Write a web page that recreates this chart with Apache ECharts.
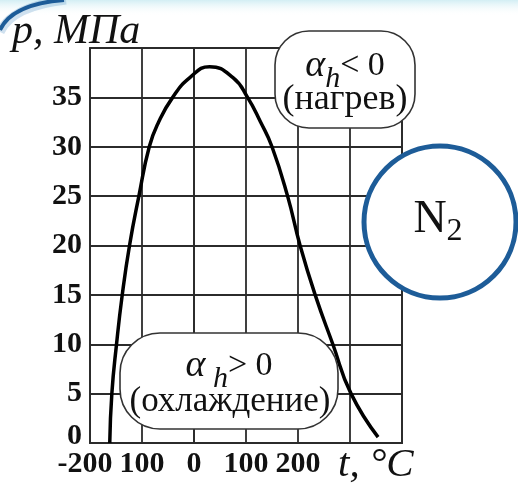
<!DOCTYPE html>
<html>
<head>
<meta charset="utf-8">
<script src="https://cdn.jsdelivr.net/npm/echarts@6/dist/echarts.min.js"></script>
<style>
html,body{margin:0;padding:0;background:#fff;}
#chart{width:518px;height:487px;}
</style>
</head>
<body>
<div id="chart"></div>
<script>
// Inversion curve of N2
var tempValues = [-162, -158, -149, -138, -124, -106, -86, -68, -41, -8, 30, 75, 103, 128, 150, 180, 204, 233, 267, 302, 354];
var pressureValues = [0, 5, 10, 15, 20, 25, 30, 32.5, 35, 37, 38.1, 37, 35, 32.5, 30, 25, 20, 15, 10, 5, 0.6];
var xTickValues = [-200, -100, 0, 100, 200, 300, 400];
var xTickLabels = ['-200', '100', '0', '100', '200', '', ''];
var yTickValues = [0, 5, 10, 15, 20, 25, 30, 35, 40];
var yTickLabels = ['0', '5', '10', '15', '20', '25', '30', '35', ''];

var curveData = tempValues.map(function (t, i) { return [t, pressureValues[i]]; });

var serif = '"Liberation Serif", "DejaVu Serif", serif';
var gridColor = '#2b2b2b';
var blue = '#1d5c98';

var chart = echarts.init(document.getElementById('chart'));
chart.setOption({
  animation: false,
  backgroundColor: '#fff',
  grid: { left: 90, right: 116, top: 48, bottom: 44, show: true, borderColor: gridColor, borderWidth: 1.8, backgroundColor: 'transparent' },
  xAxis: {
    type: 'value', min: -200, max: 400, interval: 100,
    axisLine: { show: true, lineStyle: { color: gridColor, width: 1.8 } },
    axisTick: { show: false },
    splitLine: { show: true, lineStyle: { color: gridColor, width: 1.8 } },
    axisLabel: {
      margin: 6,
      fontFamily: serif, fontWeight: 'bold', fontSize: 30, color: '#111',
      formatter: function (v) {
        var i = xTickValues.indexOf(v);
        var s = i >= 0 ? xTickLabels[i] : '';
        if (s === '-200') return '{m|' + s + '}';
        return s;
      },
      rich: { m: { fontFamily: serif, fontWeight: 'bold', fontSize: 30, color: '#111', padding: [0, 10, 0, 0] } }
    }
  },
  yAxis: {
    type: 'value', min: 0, max: 40, interval: 5,
    axisLine: { show: true, lineStyle: { color: gridColor, width: 1.8 } },
    axisTick: { show: false },
    splitLine: { show: true, lineStyle: { color: gridColor, width: 1.8 } },
    axisLabel: {
      margin: 8,
      fontFamily: serif, fontWeight: 'bold', fontSize: 30, color: '#111',
      formatter: function (v) {
        var i = yTickValues.indexOf(v);
        var s = i >= 0 ? yTickLabels[i] : '';
        if (v === 0) return '{z|0}';
        return s;
      },
      rich: { z: { fontFamily: serif, fontWeight: 'bold', fontSize: 30, color: '#111', padding: [0, 0, 14, 0] } }
    }
  },
  series: [{
    type: 'line',
    data: curveData,
    smooth: 0.5,
    showSymbol: false,
    lineStyle: { color: '#000', width: 3.5 },
    z: 3
  }],
  graphic: [
    // top decoration band
    { type: 'rect', shape: { x: 0, y: 0, width: 518, height: 16 }, z: 0,
      style: { fill: new echarts.graphic.LinearGradient(0, 0, 0, 1, [{ offset: 0, color: '#d3eef4' }, { offset: 1, color: 'rgba(255,255,255,0)' }]) } },
    { type: 'bezierCurve', z: 1, shape: { x1: 0, y1: 32, cpx1: 12, cpy1: 6, x2: 66, y2: 0 },
      style: { fill: null, stroke: 'rgba(120,170,210,0.35)', lineWidth: 9 } },
    { type: 'bezierCurve', z: 1, shape: { x1: 0, y1: 30, cpx1: 12, cpy1: 4, x2: 64, y2: 0 },
      style: { fill: null, stroke: blue, lineWidth: 4 } },
    // axis titles
    { type: 'text', left: 12, top: 11, z: 10,
      style: { text: 'p, MПа', fontFamily: serif, fontStyle: 'italic', fontSize: 42, fill: '#111' } },
    { type: 'text', left: 338, top: 445, z: 10,
      style: { text: 't, °C', fontFamily: serif, fontStyle: 'italic', fontSize: 41, fill: '#111' } },
    // box 1
    { type: 'rect', z: 5, shape: { x: 275, y: 31, width: 140, height: 97, r: 34 },
      style: { fill: '#fff', stroke: '#333', lineWidth: 1.6 } },
    { type: 'text', z: 6, x: 345, y: 66,
      style: { text: '{a|α}{h|h}{r|< 0}', align: 'center', verticalAlign: 'middle',
        rich: {
          a: { fontFamily: serif, fontStyle: 'italic', fontSize: 38, fill: '#111' },
          h: { fontFamily: serif, fontStyle: 'italic', fontSize: 30, fill: '#111', padding: [26, 0, 0, 0] },
          r: { fontFamily: serif, fontSize: 34, fill: '#111' }
        } } },
    { type: 'text', z: 6, x: 345, y: 100,
      style: { text: '(нагрев)', align: 'center', verticalAlign: 'middle', fontFamily: serif, fontSize: 36, fill: '#111' } },
    // box 2
    { type: 'rect', z: 5, shape: { x: 120, y: 333, width: 218, height: 96, r: 40 },
      style: { fill: '#fff', stroke: '#333', lineWidth: 1.6 } },
    { type: 'text', z: 6, x: 229, y: 366,
      style: { text: '{a|α}{h| h}{r|> 0}', align: 'center', verticalAlign: 'middle',
        rich: {
          a: { fontFamily: serif, fontStyle: 'italic', fontSize: 38, fill: '#111' },
          h: { fontFamily: serif, fontStyle: 'italic', fontSize: 30, fill: '#111', padding: [26, 0, 0, 0] },
          r: { fontFamily: serif, fontSize: 34, fill: '#111' }
        } } },
    { type: 'text', z: 6, x: 230, y: 402,
      style: { text: '(охлаждение)', align: 'center', verticalAlign: 'middle', fontFamily: serif, fontSize: 35, fill: '#111' } },
    // N2 circle
    { type: 'circle', z: 7, shape: { cx: 440, cy: 222, r: 76 },
      style: { fill: '#fff', stroke: blue, lineWidth: 5 } },
    { type: 'text', z: 8, x: 438, y: 220,
      style: { text: '{n|N}{s|2}', align: 'center', verticalAlign: 'middle',
        rich: {
          n: { fontFamily: serif, fontSize: 46, fill: '#111' },
          s: { fontFamily: serif, fontSize: 32, fill: '#111', padding: [24, 0, 0, 0] }
        } } }
  ]
});
</script>
</body>
</html>
